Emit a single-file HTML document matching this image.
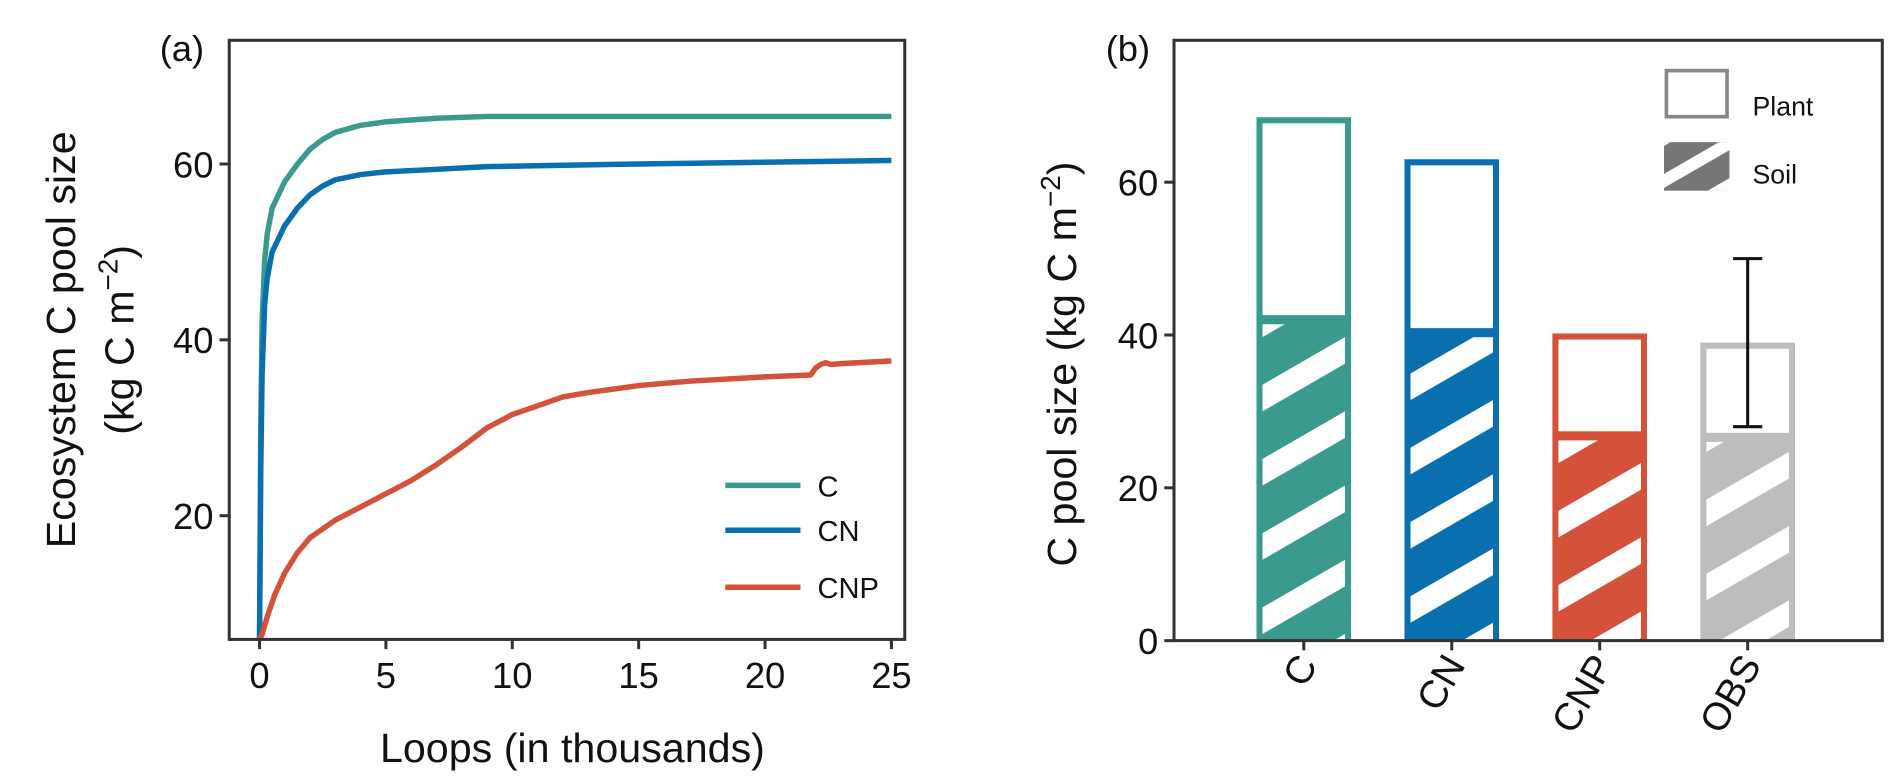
<!DOCTYPE html>
<html><head><meta charset="utf-8"><style>
html,body{margin:0;padding:0;background:#fff;}
svg{display:block;font-family:"Liberation Sans",sans-serif;}
</style></head><body>
<svg id="fig" width="1892" height="784" viewBox="0 0 1560 646" xmlns="http://www.w3.org/2000/svg">
<defs>
<pattern id="hatch" patternUnits="userSpaceOnUse" width="53" height="53" patternTransform="rotate(-30)">
<rect x="0" y="0" width="53" height="19" fill="#fff"/>
</pattern>
<pattern id="hatch2" patternUnits="userSpaceOnUse" width="30" height="30" patternTransform="rotate(-30)">
<rect x="0" y="0" width="30" height="10" fill="#fff"/>
</pattern>
</defs>
<g id="pa"></g>
<g id="pb"></g>
</svg>
<script>
const NS='http://www.w3.org/2000/svg';
// Panel A data
const aXTicks=[0,5,10,15,20,25];
const aYTicks=[20,40,60];
const cX=[0,0.05,0.1,0.2,0.3,0.5,1,1.5,2,2.5,3,4,5,7,9,15,25];
const cY=[6,30,42,49,52,55,58,60,61.7,62.8,63.6,64.4,64.8,65.2,65.4,65.4,65.4];
const cnX=[0,0.05,0.1,0.2,0.3,0.5,1,1.5,2,2.5,3,4,5,7,9,15,25];
const cnY=[6,25,36,44,47,50,53,55,56.5,57.5,58.2,58.8,59.1,59.4,59.7,60,60.4];
const cnpX=[0,0.1,0.3,0.6,1,1.5,2,3,4,5,6,7,8,9,10,11,12,13,15,17,20,21.8,22,22.2,22.4,22.6,23,25];
const cnpY=[6,6.5,8.5,11,13.5,15.8,17.5,19.5,21,22.5,24,25.8,27.8,30,31.5,32.5,33.5,34,34.8,35.3,35.8,36,36.8,37.2,37.4,37.2,37.3,37.6];
// Panel B data
const bCats=['C','CN','CNP','OBS'];
const bTotal=[68.5,63,40.2,39];
const bSoil=[42.2,40.5,27,26.8];
const bYTicks=[0,20,40,60];
const obsErr=[28,50];

function el(p,t,a){const e=document.createElementNS(NS,t);for(const k in a)e.setAttribute(k,a[k]);p.appendChild(e);return e;}
function txt(p,x,y,s,size,anchor,extra){const e=el(p,'text',Object.assign({x:x,y:y,'font-size':size,'text-anchor':anchor||'middle',fill:'#111'},extra||{}));e.textContent=s;return e;}

// ---------- Panel A ----------
const A=document.getElementById('pa');
const aL=189,aR=746,aT=33,aB=527;
const ax=v=>214+v*(735-214)/25;
const ay=v=>425-(v-20)*7.25;
const colors={C:'#3a9a8e',CN:'#0a6faf',CNP:'#d4513a'};
[[cX,cY,'C'],[cnX,cnY,'CN'],[cnpX,cnpY,'CNP']].forEach(([xs,ys,n])=>{
 const d=xs.map((x,i)=>(i?'L':'M')+ax(x).toFixed(1)+','+ay(ys[i]).toFixed(1)).join(' ');
 const p=el(A,'path',{d:d,fill:'none',stroke:colors[n],'stroke-width':4.5,'stroke-linejoin':'round'});
 
 
});
const fa=el(A,'rect',{x:aL,y:aT,width:aR-aL,height:aB-aT,fill:'none',stroke:'#333','stroke-width':2.5});


aXTicks.forEach(t=>{el(A,'line',{x1:ax(t),x2:ax(t),y1:aB,y2:aB+8,stroke:'#333','stroke-width':2.5});
 const tt=txt(A,ax(t),aB+40,String(t),30);
 
 });
aYTicks.forEach(t=>{el(A,'line',{x1:aL-8,x2:aL,y1:ay(t),y2:ay(t),stroke:'#333','stroke-width':2.5});
 const tt=txt(A,aL-13,ay(t)+11,String(t),30,'end');
 
 });
let t1=txt(A,472,628,'Loops (in thousands)',34);


let t2=el(A,'text',{transform:'translate(62,280) rotate(-90)','font-size':34,'text-anchor':'middle',fill:'#111'});
t2.textContent='Ecosystem C pool size';


let t3=el(A,'text',{transform:'translate(110,280) rotate(-90)','font-size':34,'text-anchor':'middle',fill:'#111'});
t3.innerHTML='(kg C m<tspan dy="-13" font-size="23">−2</tspan><tspan dy="13">)</tspan>';


let t4=txt(A,150,50,'(a)',30);


[['C',400],['CN',437],['CNP',484]].forEach(([n,y])=>{
 const g=el(A,'g',{});
 
 
 el(g,'line',{x1:598,x2:660,y1:y,y2:y,stroke:colors[n],'stroke-width':4.5});
 txt(g,674,y+9,n,24,'start');
});

// ---------- Panel B ----------
const B=document.getElementById('pb');
const bL=968,bR=1552,bT=33,bB=528;
const by=v=>bB-v*6.3;
const bx=i=>1075+i*122;
const bw=78;
const bCol=['#3a9a8e','#0a6faf','#d4513a','#bdbdbd'];
bCats.forEach((c,i)=>{
 const g=el(B,'g',{});
 
 
 const x0=bx(i)-bw/2;
 el(g,'rect',{x:x0+2.5,y:by(bTotal[i])+2.5,width:bw-5,height:by(bSoil[i])-by(bTotal[i])-2.5,fill:'#fff',stroke:bCol[i],'stroke-width':5});
 el(g,'rect',{x:x0,y:by(bSoil[i]),width:bw,height:bB-by(bSoil[i]),fill:bCol[i]});
 el(g,'rect',{x:x0+5,y:by(bSoil[i])+5,width:bw-10,height:bB-by(bSoil[i])-5,fill:'url(#hatch)'});
 const lt=el(B,'text',{transform:'translate('+(bx(i)+12)+','+(bB+20)+') rotate(-60)','font-size':32,'text-anchor':'end',fill:'#111'});
 lt.textContent=c;
 
 
 el(B,'line',{x1:bx(i),x2:bx(i),y1:bB,y2:bB+8,stroke:'#333','stroke-width':2.5});
});
const eg=el(B,'g',{stroke:'#111','stroke-width':2.5});


el(eg,'line',{x1:bx(3),x2:bx(3),y1:by(obsErr[0]),y2:by(obsErr[1])});
el(eg,'line',{x1:bx(3)-12,x2:bx(3)+12,y1:by(obsErr[0]),y2:by(obsErr[0])});
el(eg,'line',{x1:bx(3)-12,x2:bx(3)+12,y1:by(obsErr[1]),y2:by(obsErr[1])});
const fb=el(B,'rect',{x:bL,y:bT,width:bR-bL,height:bB-bT,fill:'none',stroke:'#333','stroke-width':2.5});


bYTicks.forEach(t=>{el(B,'line',{x1:bL-8,x2:bL,y1:by(t),y2:by(t),stroke:'#333','stroke-width':2.5});
 const tt=txt(B,bL-13,by(t)+11,String(t),30,'end');
 
 });
let t5=el(B,'text',{transform:'translate(887,300) rotate(-90)','font-size':34,'text-anchor':'middle',fill:'#111'});
t5.innerHTML='C pool size (kg C m<tspan dy="-13" font-size="23">−2</tspan><tspan dy="13">)</tspan>';


let t6=txt(B,930,50,'(b)',30);


const lp=el(B,'g',{});


el(lp,'rect',{x:1374,y:58,width:50,height:38,fill:'#fff',stroke:'#888','stroke-width':3});
txt(lp,1445,95,'Plant',22,'start');
const ls=el(B,'g',{});


el(ls,'rect',{x:1372,y:117,width:54,height:40,fill:'#7a7474'});
el(ls,'rect',{x:1372,y:117,width:54,height:40,fill:'url(#hatch2)'});
txt(ls,1445,151,'Soil',22,'start');
</script>
</body></html>
